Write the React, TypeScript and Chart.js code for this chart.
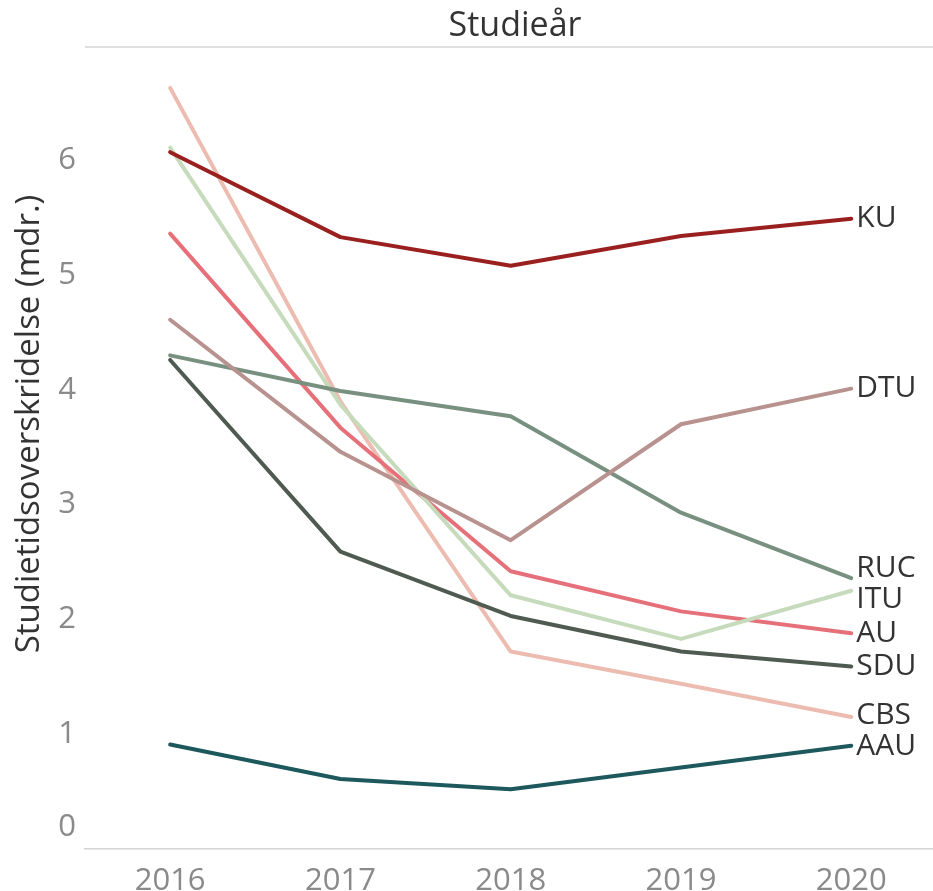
import React, { useEffect, useRef } from "react";
import { Chart, registerables } from "chart.js";

Chart.register(...registerables);

const years = [2016, 2017, 2018, 2019, 2020];
const yTicks = [0, 1, 2, 3, 4, 5, 6];
const chartTitle = "Studieår";
const yAxisTitle = "Studietidsoverskridelse (mdr.)";

const names = ["KU", "DTU", "RUC", "ITU", "AU", "SDU", "CBS", "AAU"];
const KU = [6.07, 5.33, 5.08, 5.34, 5.49];
const DTU = [4.61, 3.46, 2.69, 3.7, 4.01];
const RUC = [4.3, 3.99, 3.77, 2.93, 2.36];
const ITU = [6.11, 3.87, 2.21, 1.83, 2.25];
const AU = [5.36, 3.67, 2.42, 2.07, 1.88];
const SDU = [4.26, 2.59, 2.03, 1.72, 1.59];
const CBS = [6.63, 3.9, 1.72, 1.44, 1.15];
const AAU = [0.91, 0.61, 0.52, 0.71, 0.9];
const seriesValues = [KU, DTU, RUC, ITU, AU, SDU, CBS, AAU];
const colors = ["#99201f", "#b7928e", "#78907f", "#c6dbbb", "#e6707a", "#4f5a51", "#edbcb1", "#1d585c"];

const FONT = "'Open Sans', 'Noto Sans', sans-serif";

const customPlugin = {
  id: "customText",
  beforeDraw(chart: any) {
    const { ctx, chartArea } = chart;
    ctx.save();
    ctx.strokeStyle = "#d6d6d6";
    ctx.lineWidth = 1.5;
    ctx.beginPath();
    ctx.moveTo(chartArea.left, 47);
    ctx.lineTo(chart.width, 47);
    ctx.stroke();
    ctx.fillStyle = "#333333";
    ctx.font = `34px ${FONT}`;
    ctx.textAlign = "center";
    ctx.textBaseline = "middle";
    ctx.fillText(chartTitle, 515, 26);
    ctx.restore();
  },
  afterDraw(chart: any) {
    const { ctx, chartArea, scales } = chart;
    const ys = scales.y;
    ctx.save();
    // y tick labels
    ctx.fillStyle = "#8a8a8a";
    ctx.font = `31px ${FONT}`;
    ctx.textAlign = "right";
    ctx.textBaseline = "middle";
    yTicks.forEach((v) => {
      let py = ys.getPixelForValue(v);
      py = Math.min(py, chartArea.bottom - 22);
      ctx.fillText(String(v), 76, py);
    });
    // y axis title
    ctx.save();
    ctx.translate(30, 424);
    ctx.rotate(-Math.PI / 2);
    ctx.fillStyle = "#333333";
    ctx.font = `33px ${FONT}`;
    ctx.textAlign = "center";
    ctx.textBaseline = "middle";
    ctx.fillText(yAxisTitle, 0, 0);
    ctx.restore();
    // end labels
    const items = chart.data.datasets.map((ds: any, i: number) => {
      const meta = chart.getDatasetMeta(i);
      const pt = meta.data[meta.data.length - 1];
      return { label: ds.label, x: pt.x, y: pt.y };
    });
    const sorted = [...items].sort((a, b) => a.y - b.y);
    const gap = 31;
    for (let iter = 0; iter < 50; iter++) {
      let moved = false;
      for (let i = 1; i < sorted.length; i++) {
        const d = sorted[i].y - sorted[i - 1].y;
        if (d < gap) {
          const shift = (gap - d) / 2;
          sorted[i - 1].y -= shift;
          sorted[i].y += shift;
          moved = true;
        }
      }
      if (!moved) break;
    }
    ctx.fillStyle = "#333333";
    ctx.font = `30px ${FONT}`;
    ctx.textAlign = "left";
    ctx.textBaseline = "middle";
    sorted.forEach((it) => {
      ctx.fillText(it.label, it.x + 5, it.y);
    });
    ctx.restore();
  },
};

export default function App() {
  const canvasRef = useRef<HTMLCanvasElement | null>(null);

  useEffect(() => {
    document.body.style.margin = "0";
    const canvas = canvasRef.current;
    if (!canvas) return;
    const chart = new Chart(canvas, {
      type: "line",
      data: {
        datasets: names.map((n, i) => ({
          label: n,
          data: years.map((yr, j) => ({ x: yr, y: seriesValues[i][j] })),
          borderColor: colors[i],
          backgroundColor: colors[i],
          borderWidth: 4,
          borderCapStyle: "round",
          borderJoinStyle: "round",
          pointRadius: 0,
          tension: 0,
          fill: false,
        })),
      },
      options: {
        responsive: false,
        maintainAspectRatio: false,
        animation: false,
        layout: { padding: { top: 50, right: 0, left: 0, bottom: 0 } },
        plugins: {
          legend: { display: false },
          tooltip: { enabled: false },
          title: { display: false },
        },
        scales: {
          x: {
            type: "linear",
            min: 2015.5,
            max: 2020.48,
            grid: { display: false },
            border: { display: true, color: "#d4d4d4", width: 1.5 },
            afterBuildTicks: (scale: any) => {
              scale.ticks = years.map((v) => ({ value: v }));
            },
            afterFit: (scale: any) => {
              scale.height = 42;
            },
            ticks: {
              color: "#8a8a8a",
              font: { family: FONT, size: 31 },
              padding: 6,
              maxRotation: 0,
              autoSkip: false,
              callback: (v: any) => String(v),
            },
          },
          y: {
            min: 0,
            max: 6.96,
            grid: { display: false },
            border: { display: false },
            afterBuildTicks: (scale: any) => {
              scale.ticks = yTicks.map((v) => ({ value: v }));
            },
            afterFit: (scale: any) => {
              scale.width = 85;
            },
            ticks: { display: false },
          },
        },
      },
      plugins: [customPlugin],
    });
    return () => chart.destroy();
  }, []);

  return (
    <div style={{ width: 933, height: 891, overflow: "hidden" }}>
      <canvas ref={canvasRef} width={933} height={891} />
    </div>
  );
}
